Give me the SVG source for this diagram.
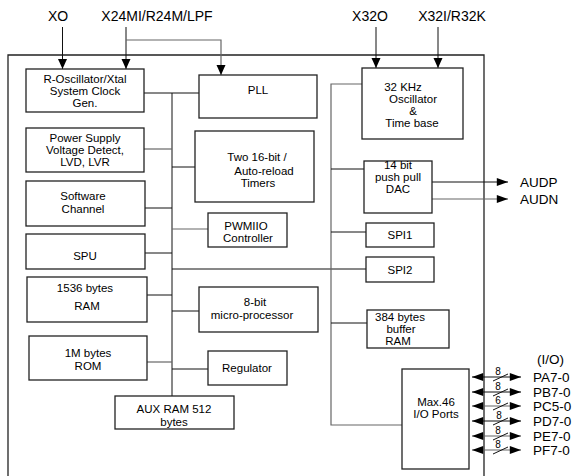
<svg xmlns="http://www.w3.org/2000/svg" width="576" height="476" viewBox="0 0 576 476">
<defs>
<marker id="ah" viewBox="0 0 10 10" refX="10" refY="5" markerWidth="11" markerHeight="10" markerUnits="userSpaceOnUse" orient="auto">
<path d="M0,0.5 L10,5 L0,9.5 Z" fill="#000"/>
</marker>
<marker id="ahw" viewBox="0 0 14 10" refX="14" refY="5" markerWidth="14" markerHeight="8" markerUnits="userSpaceOnUse" orient="auto-start-reverse">
<path d="M0,0 L14,5 L0,10 Z" fill="#000"/>
</marker>
<style>
.box{fill:#fff;stroke:#222;stroke-width:1.3}
.ln{fill:none;stroke:#111;stroke-width:1}
.gl{fill:none;stroke:#666;stroke-width:1.2}
text{font-family:"Liberation Sans",Arial,sans-serif;fill:#000}
.t{font-size:11.5px;text-anchor:middle}
.big{font-size:14px;text-anchor:middle}
.lab{font-size:13.5px}
.sm{font-size:10px;text-anchor:middle}
</style>
</defs>
<rect width="576" height="476" fill="#fff"/>

<g id="outer"><path d="M8,480 L8,55 L484,55 L484,480" fill="none" stroke="#222" stroke-width="1.3"/></g>

<g id="connectors">
<line class="ln" x1="62.5" y1="27" x2="62.5" y2="69" marker-end="url(#ah)"/>
<line class="ln" x1="126" y1="27" x2="126" y2="69" marker-end="url(#ah)"/>
<polyline class="gl" points="126,40 221,40 221,75" marker-end="url(#ah)"/>
<line class="ln" x1="376" y1="27" x2="376" y2="68" marker-end="url(#ah)"/>
<line class="ln" x1="438" y1="27" x2="438" y2="68" marker-end="url(#ah)"/>
<line class="ln" x1="172" y1="93" x2="172" y2="396"/>
<line class="ln" x1="144" y1="93" x2="199" y2="93"/>
<line class="gl" x1="144" y1="149" x2="172" y2="149"/>
<line class="ln" x1="172" y1="167" x2="195" y2="167"/>
<line class="ln" x1="145" y1="208" x2="172" y2="208"/>
<line class="gl" x1="172" y1="229" x2="208" y2="229"/>
<line class="ln" x1="145" y1="253" x2="172" y2="253"/>
<line class="ln" x1="172" y1="269" x2="366" y2="269"/>
<line class="ln" x1="147" y1="295" x2="172" y2="295"/>
<line class="ln" x1="172" y1="311" x2="199" y2="311"/>
<line class="gl" x1="147" y1="362" x2="172" y2="362"/>
<line class="ln" x1="172" y1="369" x2="208" y2="369"/>
<polyline class="gl" points="362,84 331,84 331,425 402,425"/>
<line class="ln" x1="331" y1="169" x2="364" y2="169"/>
<line class="ln" x1="331" y1="232" x2="366" y2="232"/>
<line class="ln" x1="331" y1="323" x2="367" y2="323"/>
<line class="ln" x1="432" y1="182" x2="508" y2="182" marker-end="url(#ahw)"/>
<line class="gl" x1="432" y1="199" x2="508" y2="199" marker-end="url(#ahw)"/>
<g id="io-buses">
<line class="ln" x1="472" y1="377" x2="521" y2="377" marker-start="url(#ahw)" marker-end="url(#ahw)"/>
<line class="ln" x1="472" y1="392" x2="521" y2="392" marker-start="url(#ahw)" marker-end="url(#ahw)"/>
<line class="gl" x1="472" y1="406" x2="521" y2="406" marker-start="url(#ahw)" marker-end="url(#ahw)"/>
<line class="ln" x1="472" y1="421" x2="521" y2="421" marker-start="url(#ahw)" marker-end="url(#ahw)"/>
<line class="gl" x1="472" y1="436" x2="521" y2="436" marker-start="url(#ahw)" marker-end="url(#ahw)"/>
<line class="gl" x1="472" y1="450" x2="521" y2="450" marker-start="url(#ahw)" marker-end="url(#ahw)"/>
<path class="ln" d="M493,381 L508,374 M493,396 L508,389 M493,410 L508,403 M493,425 L508,418 M493,440 L508,433 M493,454 L508,447"/>
<text class="sm" x="498" y="375">8</text>
<text class="sm" x="498" y="390">8</text>
<text class="sm" x="498" y="404">6</text>
<text class="sm" x="499" y="419">8</text>
<text class="sm" x="498" y="434">8</text>
<text class="sm" x="498" y="448">8</text>
</g>
</g>

<g id="pins">
<text class="big" x="58" y="21">XO</text>
<text class="big" x="157" y="21">X24MI/R24M/LPF</text>
<text class="big" x="370" y="21">X32O</text>
<text class="big" x="452" y="21">X32I/R32K</text>
<text class="lab" x="520" y="187">AUDP</text>
<text class="lab" x="520" y="204">AUDN</text>
<text class="lab" x="537" y="364">(I/O)</text>
<text class="lab" x="533" y="382">PA7-0</text>
<text class="lab" x="533" y="397">PB7-0</text>
<text class="lab" x="533" y="411">PC5-0</text>
<text class="lab" x="533" y="426">PD7-0</text>
<text class="lab" x="533" y="441">PE7-0</text>
<text class="lab" x="533" y="455">PF7-0</text>
</g>

<g id="rosc"><rect class="box" x="26" y="69" width="118" height="43"/>
<text class="t" x="85" y="83">R-Oscillator/Xtal</text><text class="t" x="85" y="95">System Clock</text><text class="t" x="85" y="107">Gen.</text></g>
<g id="pll"><rect class="box" x="199" y="75" width="118" height="43"/><text class="t" x="258" y="94">PLL</text></g>
<g id="power"><rect class="box" x="26" y="128" width="118" height="44"/>
<text class="t" x="85" y="142">Power Supply</text><text class="t" x="85" y="154">Voltage Detect,</text><text class="t" x="85" y="166">LVD, LVR</text></g>
<g id="timers"><rect class="box" x="195" y="131" width="119" height="71"/>
<text class="t" x="257" y="161">Two 16-bit /</text><text class="t" x="264" y="175">Auto-reload</text><text class="t" x="258" y="187">Timers</text></g>
<g id="software"><rect class="box" x="26" y="181" width="119" height="45"/>
<text class="t" x="83" y="200">Software</text><text class="t" x="83" y="213">Channel</text></g>
<g id="pwmiio"><rect class="box" x="208" y="213" width="79" height="34"/>
<text class="t" x="246" y="230">PWMIIO</text><text class="t" x="248" y="242">Controller</text></g>
<g id="spu"><rect class="box" x="26" y="234" width="119" height="35"/><text class="t" x="85" y="260">SPU</text></g>
<g id="ram"><rect class="box" x="27" y="277" width="120" height="45"/>
<text class="t" x="85" y="292">1536 bytes</text><text class="t" x="87" y="310">RAM</text></g>
<g id="cpu"><rect class="box" x="199" y="287" width="119" height="45"/>
<text class="t" x="255" y="306">8-bit</text><text class="t" x="252" y="319">micro-processor</text></g>
<g id="rom"><rect class="box" x="29" y="336" width="118" height="44"/>
<text class="t" x="88" y="357">1M bytes</text><text class="t" x="88" y="370">ROM</text></g>
<g id="regulator"><rect class="box" x="208" y="351" width="79" height="34"/><text class="t" x="247" y="372">Regulator</text></g>
<g id="auxram"><rect class="box" x="115" y="396" width="119" height="33"/>
<text class="t" x="174" y="413">AUX RAM 512</text><text class="t" x="174" y="426">bytes</text></g>
<g id="osc32"><rect class="box" x="362" y="68" width="101" height="71"/>
<text class="t" x="403" y="91">32 KHz</text><text class="t" x="413" y="103">Oscillator</text><text class="t" x="413" y="115">&amp;</text><text class="t" x="412" y="127">Time base</text></g>
<g id="dac"><rect class="box" x="364" y="161" width="68" height="52"/>
<text class="t" x="398" y="169">14 bit</text><text class="t" x="398" y="181">push pull</text><text class="t" x="398" y="193">DAC</text></g>
<g id="spi1"><rect class="box" x="366" y="223" width="68" height="24"/><text class="t" x="400" y="239">SPI1</text></g>
<g id="spi2"><rect class="box" x="366" y="257" width="68" height="25"/><text class="t" x="400" y="274">SPI2</text></g>
<g id="bufram"><rect class="box" x="367" y="310" width="82" height="38"/>
<text class="t" x="400" y="321">384 bytes</text><text class="t" x="401" y="333">buffer</text><text class="t" x="398" y="345">RAM</text></g>
<g id="ioports"><rect class="box" x="402" y="369" width="67" height="100"/>
<text class="t" x="436" y="406">Max.46</text><text class="t" x="436" y="418">I/O Ports</text></g>
</svg>
